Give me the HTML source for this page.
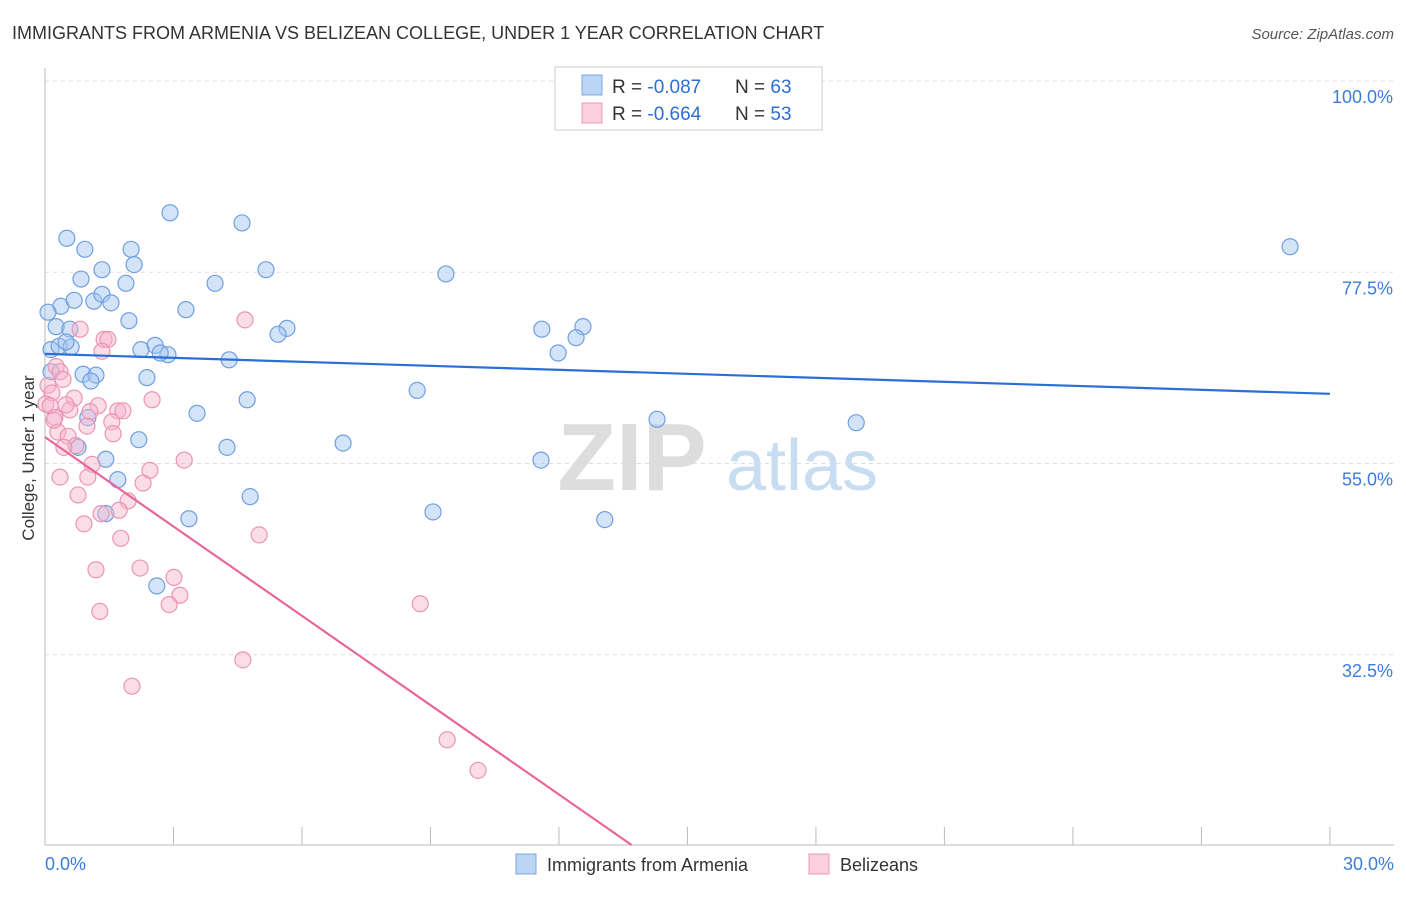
<!DOCTYPE html>
<html><head><meta charset="utf-8"><style>
body{margin:0;background:#fff;font-family:"Liberation Sans",sans-serif;}
svg text{font-family:"Liberation Sans",sans-serif;}
</style></head><body>
<svg id="chart" width="1406" height="892">
<text x="12" y="39" font-size="18" fill="#333">IMMIGRANTS FROM ARMENIA VS BELIZEAN COLLEGE, UNDER 1 YEAR CORRELATION CHART</text>
<text x="1394" y="39" font-size="15" fill="#555" text-anchor="end" font-style="italic">Source: ZipAtlas.com</text>
<text x="0" y="0" transform="translate(34,458) rotate(-90)" font-size="17" fill="#333" text-anchor="middle">College, Under 1 year</text>
<g>
<text x="632" y="490" font-size="96" fill="#ddd" text-anchor="middle" font-family="Liberation Serif" font-weight="bold">ZIP</text>
<text x="802" y="490" font-size="72" fill="#c8dcf2" text-anchor="middle">atlas</text>
</g>
<g id="grid"></g><g id="ticks"></g><g id="pts"></g><g id="trends"></g>
<g>
<rect x="555" y="67" width="267" height="63" fill="#fff" stroke="#ccc"/>
<rect x="582" y="75" width="20" height="20" fill="#bcd5f5" stroke="#7aa8e6"/>
<rect x="582" y="103" width="20" height="20" fill="#fbcfdd" stroke="#ee9ab8"/>
<text x="612" y="93" font-size="19" fill="#333">R = <tspan fill="#2a6fd6">-0.087</tspan></text>
<text x="735" y="93" font-size="19" fill="#333">N = <tspan fill="#2a6fd6">63</tspan></text>
<text x="612" y="120" font-size="19" fill="#333">R = <tspan fill="#2a6fd6">-0.664</tspan></text>
<text x="735" y="120" font-size="19" fill="#333">N = <tspan fill="#2a6fd6">53</tspan></text>
</g>
<g>
<rect x="516" y="854" width="20" height="20" fill="#bcd5f5" stroke="#7aa8e6"/>
<text x="547" y="871" font-size="18" fill="#333">Immigrants from Armenia</text>
<rect x="809" y="854" width="20" height="20" fill="#fbcfdd" stroke="#ee9ab8"/>
<text x="840" y="871" font-size="18" fill="#333">Belizeans</text>
</g>
</svg>
<script>
const xTickLabels=["0.0%","30.0%"];
const yTicks=[100,77.5,55,32.5];
const blueX=[2.92,4.60,0.51,0.93,2.01,29.07,2.08,1.33,5.16,0.84,9.36,1.89,3.97,0.37,0.68,1.14,1.33,1.54,0.07,3.29,1.96,0.26,0.58,5.65,5.44,11.6,12.56,12.4,11.98,2.57,2.87,2.69,2.24,0.14,0.33,0.61,0.49,4.30,0.89,1.19,1.07,2.38,0.14,8.69,4.72,3.55,1.0,14.29,18.94,2.19,4.25,6.96,0.77,1.42,11.58,1.70,4.79,9.06,3.36,1.42,13.07,2.61];
const blueY=[84.5,83.3,81.5,80.2,80.2,80.5,78.4,77.8,77.8,76.7,77.3,76.2,76.2,73.5,74.2,74.1,74.9,73.9,72.8,73.1,71.8,71.1,70.8,70.9,70.2,70.8,71.1,69.8,68.0,68.9,67.8,68.0,68.4,68.4,68.8,68.7,69.3,67.2,65.5,65.4,64.7,65.1,65.8,63.6,62.5,60.9,60.4,60.2,59.8,57.8,56.9,57.4,56.9,55.5,55.4,53.1,51.1,49.3,48.5,49.1,48.4,40.6];
const pinkX=[4.67,0.82,1.38,1.47,1.33,0.26,0.35,0.42,0.07,0.16,0.02,0.12,0.68,0.58,1.24,1.70,1.82,2.50,1.05,0.23,1.56,0.98,0.30,0.54,1.59,0.72,0.44,3.25,1.10,2.45,2.29,0.35,1.0,0.77,1.94,1.73,1.31,5.0,0.91,1.77,1.19,2.22,3.01,3.15,2.90,1.28,8.76,4.62,2.03,9.39,10.11,0.21,0.49];
const pinkY=[71.9,70.8,69.6,69.6,68.2,66.4,65.8,64.9,64.2,63.3,62.0,61.8,62.7,61.3,61.8,61.2,61.2,62.5,61.1,60.4,59.9,59.4,58.7,58.2,58.5,57.1,56.9,55.4,54.9,54.2,52.7,53.4,53.4,51.3,50.6,49.5,49.1,46.6,47.9,46.2,42.5,42.7,41.6,39.5,38.4,37.6,38.5,31.9,28.8,22.5,18.9,60.1,61.9];
const blueTrend=[67.9,63.2];
const pinkTrend=[58.1,-47.0];
const NS="http://www.w3.org/2000/svg";
const X=v=>45+v*42.83, Y=v=>81+(100-v)*8.5;
function mk(tag,attrs,parent){const e=document.createElementNS(NS,tag);for(const k in attrs)e.setAttribute(k,attrs[k]);document.getElementById(parent).appendChild(e);return e;}
yTicks.forEach((t,i)=>{
 const l=mk('line',{x1:45,x2:1394,y1:Y(t),y2:Y(t),stroke:'#ddd','stroke-dasharray':'4,4'},'grid');
 
 
 const tx=mk('text',{x:1393,y:Y(t)+22,'font-size':18,fill:'#3b7dd8','text-anchor':'end'},'grid');
 tx.textContent=t.toFixed(1)+'%';
 
 
});
const ax=mk('line',{x1:45,x2:45,y1:68,y2:845,stroke:'#bbb'},'ticks');


const bx=mk('line',{x1:45,x2:1394,y1:845,y2:845,stroke:'#bbb'},'ticks');


for(let i=0;i<=10;i++){const t=mk('line',{x1:X(i*3),x2:X(i*3),y1:827,y2:845,stroke:'#bbb'},'ticks');
 
 }
[[0,'start',45],[30,'end',1394]].forEach((a,i)=>{const t=mk('text',{x:a[2],y:870,'font-size':18,fill:'#3b7dd8','text-anchor':a[1]},'ticks');t.textContent=xTickLabels[i];
 
 });
blueX.forEach((x,i)=>{const c=mk('circle',{cx:X(x),cy:Y(blueY[i]),r:8,fill:'rgba(160,196,240,0.45)',stroke:'#6f9fe0','stroke-width':1.2},'pts');
 
 });
pinkX.forEach((x,i)=>{const c=mk('circle',{cx:X(x),cy:Y(pinkY[i]),r:8,fill:'rgba(246,180,204,0.45)',stroke:'#ec94b4','stroke-width':1.2},'pts');
 
 });
const bl=mk('line',{x1:X(0),y1:Y(blueTrend[0]),x2:X(30),y2:Y(blueTrend[1]),stroke:'#2a6fd6','stroke-width':2.2},'trends');


const slope=(pinkTrend[1]-pinkTrend[0])/30, yMin=100-(845-81)/8.5, xEnd=(yMin-pinkTrend[0])/slope;
const pl=mk('line',{x1:X(0),y1:Y(pinkTrend[0]),x2:X(xEnd),y2:Y(yMin),stroke:'#e8679a','stroke-width':2.2},'trends');


</script>
</body></html>
